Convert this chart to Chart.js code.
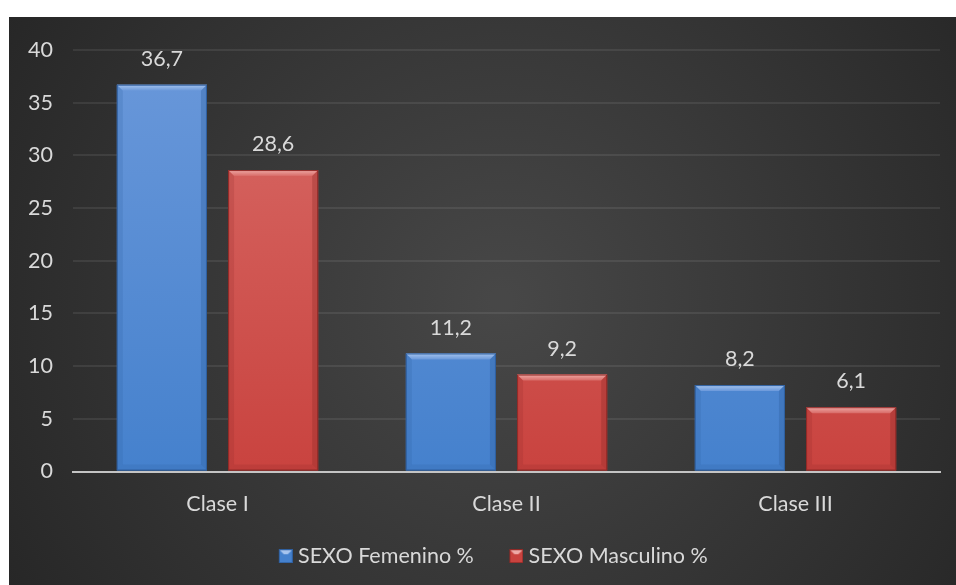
<!DOCTYPE html>
<html>
<head>
<meta charset="utf-8">
<script src="https://cdn.jsdelivr.net/npm/chart.js@4.4.1/dist/chart.umd.min.js"></script>
<style>
  html, body { margin: 0; padding: 0; background: #ffffff; }
  #marco { position: absolute; left: 9px; top: 17px; width: 947px; height: 568px; }
</style>
</head>
<body>
<div id="marco"><canvas id="grafico"></canvas></div>
<script>
// datos del grafico
const categorias = ['Clase I', 'Clase II', 'Clase III'];
const femenino = [36.7, 11.2, 8.2];
const masculino = [28.6, 9.2, 6.1];
const etiquetasSerie = ['SEXO Femenino %', 'SEXO Masculino %'];
const ejeY = { min: 0, max: 40, paso: 5 };

const colorTexto = '#d9d9d9';
const fuente = 'Lato, "Open Sans", sans-serif';
const tamFuente = 21.5;

// colores de cada serie: claro arriba, base abajo, bisel y borde
const estilos = [
  { arriba: '#6a98da', abajo: '#4581cd', bisel: '#a6c4ee', borde: '#2f5f9e' },
  { arriba: '#d86b67', abajo: '#c9433f', bisel: '#eea9a6', borde: '#8f2a27' }
];

function degradado(ctx, area, est) {
  const g = ctx.createLinearGradient(0, area.top, 0, area.bottom);
  g.addColorStop(0, est.arriba);
  g.addColorStop(1, est.abajo);
  return g;
}

// cuadro biselado para la leyenda (a la derecha de una imagen de 25px,
// asi queda pegado al texto)
function cuadroLeyenda(est) {
  const c = document.createElement('canvas');
  c.width = 25; c.height = 14;
  const x = c.getContext('2d');
  x.translate(11, 0);
  x.fillStyle = est.abajo;
  x.fillRect(0, 0, 14, 14);
  x.fillStyle = est.bisel;
  x.beginPath();
  x.moveTo(0, 0); x.lineTo(14, 0); x.lineTo(9, 5); x.lineTo(5, 5);
  x.closePath(); x.fill();
  x.strokeStyle = est.borde;
  x.lineWidth = 1;
  x.strokeRect(0.5, 0.5, 13, 13);
  return c;
}

const fondo = {
  id: 'fondo',
  beforeDraw(chart) {
    const { ctx, width, height } = chart;
    const g = ctx.createRadialGradient(width * 0.52, height * 0.5, 10, width * 0.52, height * 0.5, width * 0.62);
    g.addColorStop(0, '#474747');
    g.addColorStop(1, '#262626');
    ctx.save();
    ctx.fillStyle = g;
    ctx.fillRect(0, 0, width, height);
    ctx.restore();
  }
};

// la leyenda va centrada un poco a la derecha
const moverLeyenda = {
  id: 'moverLeyenda',
  afterLayout(chart) {
    chart.legend.left += 32;
  }
};

// bisel de las barras y etiquetas de valor
const biselYValores = {
  id: 'biselYValores',
  afterDatasetsDraw(chart) {
    const ctx = chart.ctx;
    chart.data.datasets.forEach((ds, i) => {
      const est = estilos[i];
      chart.getDatasetMeta(i).data.forEach((bar, j) => {
        const izq = bar.x - bar.width / 2;
        const der = bar.x + bar.width / 2;
        const arr = bar.y;
        const abj = bar.base;
        const b = 6;
        ctx.save();
        // bisel superior
        const gb = ctx.createLinearGradient(0, arr, 0, arr + b);
        gb.addColorStop(0, est.bisel);
        gb.addColorStop(1, est.arriba);
        ctx.fillStyle = gb;
        ctx.beginPath();
        ctx.moveTo(izq, arr); ctx.lineTo(der, arr);
        ctx.lineTo(der - b, arr + b); ctx.lineTo(izq + b, arr + b);
        ctx.closePath(); ctx.fill();
        // laterales y base algo mas oscuros
        ctx.globalAlpha = 0.35;
        ctx.fillStyle = est.borde;
        ctx.beginPath();
        ctx.moveTo(der, arr); ctx.lineTo(der, abj);
        ctx.lineTo(der - b, abj - b); ctx.lineTo(der - b, arr + b);
        ctx.closePath(); ctx.fill();
        ctx.globalAlpha = 0.2;
        ctx.beginPath();
        ctx.moveTo(izq, arr); ctx.lineTo(izq, abj);
        ctx.lineTo(izq + b, abj - b); ctx.lineTo(izq + b, arr + b);
        ctx.closePath(); ctx.fill();
        ctx.beginPath();
        ctx.moveTo(izq, abj); ctx.lineTo(der, abj);
        ctx.lineTo(der - b, abj - b); ctx.lineTo(izq + b, abj - b);
        ctx.closePath(); ctx.fill();
        ctx.globalAlpha = 1;
        ctx.strokeStyle = est.borde;
        ctx.lineWidth = 1;
        ctx.strokeRect(izq + 0.5, arr + 0.5, der - izq - 1, abj - arr - 1);
        // valor
        ctx.fillStyle = colorTexto;
        ctx.font = tamFuente + 'px ' + fuente;
        ctx.textAlign = 'center';
        ctx.textBaseline = 'bottom';
        ctx.fillText(String(ds.data[j]).replace('.', ','), bar.x, arr - 15);
        ctx.restore();
      });
    });
  }
};

const config = {
  type: 'bar',
  data: {
    labels: categorias,
    datasets: [femenino, masculino].map((serie, i) => ({
      label: etiquetasSerie[i],
      data: serie,
      backgroundColor: (c) => {
        const area = c.chart.chartArea;
        if (!area) return estilos[i].abajo;
        return degradado(c.chart.ctx, area, estilos[i]);
      },
      borderWidth: 0,
      categoryPercentage: 0.77,
      barPercentage: 0.81
    }))
  },
  options: {
    responsive: true,
    maintainAspectRatio: false,
    animation: false,
    devicePixelRatio: 1,
    layout: { padding: { left: 0, right: 16, top: 20, bottom: 8 } },
    plugins: {
      tooltip: { enabled: false },
      legend: {
        position: 'bottom',
        labels: {
          color: colorTexto,
          font: { family: fuente, size: tamFuente },
          usePointStyle: true,
          pointStyleWidth: 14,
          padding: 30,
          generateLabels: (chart) => chart.data.datasets.map((ds, i) => ({
            text: ds.label,
            pointStyle: cuadroLeyenda(estilos[i]),
            fontColor: colorTexto,
            datasetIndex: i,
            lineWidth: 0
          }))
        }
      }
    },
    scales: {
      x: {
        grid: { display: false, drawTicks: false },
        border: { display: true, color: '#c4c4c4', width: 2 },
        ticks: { color: colorTexto, font: { family: fuente, size: tamFuente }, padding: 20 },
        afterFit: (s) => { s.height = 44; }
      },
      y: {
        min: ejeY.min,
        max: ejeY.max,
        grid: { color: 'rgba(255,255,255,0.08)', lineWidth: 2, drawTicks: false },
        border: { display: false },
        ticks: { stepSize: ejeY.paso, color: colorTexto, font: { family: fuente, size: tamFuente }, padding: 20 },
        afterFit: (s) => { s.width = 64; }
      }
    }
  },
  plugins: [fondo, moverLeyenda, biselYValores]
};

const grafico = new Chart(document.getElementById('grafico').getContext('2d'), config);
</script>
</body>
</html>
